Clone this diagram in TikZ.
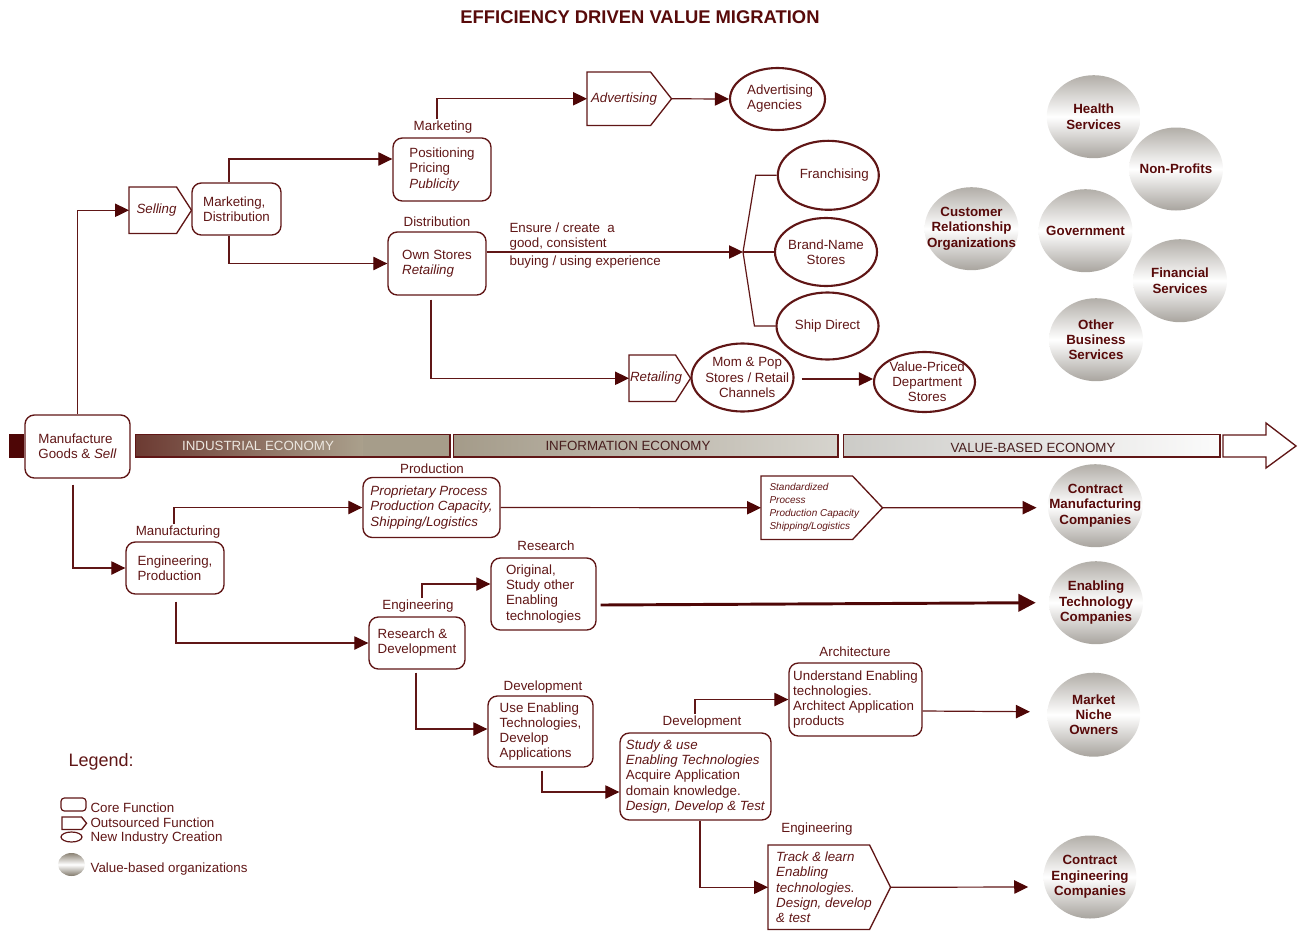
\documentclass[tikz,border=0pt]{standalone}
\usepackage{fontspec}
\setmainfont{Liberation Sans}
\usetikzlibrary{arrows.meta,calc,shapes.geometric}

\definecolor{mar}{RGB}{96,22,22}
\definecolor{tipc}{RGB}{78,6,6}
\definecolor{ttl}{RGB}{88,10,10}
\definecolor{sphtop}{RGB}{178,174,168}
\definecolor{sphbot}{RGB}{168,164,158}
\definecolor{legtop}{RGB}{140,132,118}
\definecolor{legbot}{RGB}{128,120,106}
\definecolor{indA}{RGB}{108,58,50}
\definecolor{indB}{RGB}{170,160,140}
\definecolor{indC}{RGB}{166,157,138}
\definecolor{infA}{RGB}{164,155,137}
\definecolor{infB}{RGB}{214,212,206}
\definecolor{valA}{RGB}{204,203,199}
\definecolor{valB}{RGB}{251,251,251}
\definecolor{bandtext}{RGB}{72,30,30}

\newcommand\pxu{0.75pt}

\tikzset{
  sz/.style 2 args={minimum width=#1*\pxu, minimum height=#2*\pxu},
  corebox/.style={draw=mar, line width=1pt, rounded corners=7pt, align=left,
    inner sep=2pt, text=mar, fill=white},
  osnode/.style={inner sep=0pt, align=left, text=mar},
  osline/.style={draw=mar, line width=1pt},
  % ellipses keep their size; the text sits on top as a centred label
  newind/.style={ellipse, draw=mar, line width=1.6pt, inner sep=0pt},
  nilabel/.style={align=center, text=mar, inner sep=0pt},
  nitext/.style={label={[nilabel]center:{#1}}},
  vbo/.style={ellipse, inner sep=0pt, top color=sphtop, bottom color=sphbot,
    middle color=white},
  vbolabel/.style={align=center, text=ttl, inner sep=0pt,
    font=\fontsize{10}{11.5}\selectfont\bfseries},
  vbotext/.style={label={[vbolabel]center:{#1}}},
  lbl/.style={text=mar, inner sep=1pt},
  conn/.style={draw=mar, line width=0.9pt,
    -{Triangle[length=10.5pt,width=10pt,color=tipc]}},
  heavyconn/.style={draw=tipc, line width=2.2pt,
    -{Triangle[length=13pt,width=13pt,color=tipc]}},
  plain/.style={draw=mar, line width=0.9pt},
  bandlabel/.style={inner sep=0pt, font=\fontsize{10}{12}\selectfont},
  bandedge/.style={draw=mar, line width=0.6pt},
  bandshadow/.style={draw=mar, line width=1.4pt},
}

% outsourced function: flat box with a pointed right end
% [#1 node options] #2 name, #3 left, #4 top, #5 full width, #6 height,
% #7 point length, #8 text
\newcommand\outsrc[8][]{%
  \node[osnode, anchor=north west, minimum width={(#5-#7/2)*\pxu},
        minimum height={#6*\pxu}, #1] (#2) at (#3,#4) {#8};
  \coordinate (#2-tip) at ($(#2.east)+(#7/2,0)$);
  \draw[osline] (#2.north west) -- ($(#2.north east)+(-#7/2,0)$) -- (#2-tip)
     -- ($(#2.south east)+(-#7/2,0)$) -- (#2.south west) -- cycle;}

\begin{document}
\begin{tikzpicture}[x=0.75pt,y=-0.75pt,font=\fontsize{10}{11.3}\selectfont]
\useasboundingbox (0,0) rectangle (1299,932);

% ---------- title ----------
\node[text=ttl, font=\fontsize{13.8}{16}\selectfont\bfseries] (title) at (640,17)
  {EFFICIENCY DRIVEN VALUE MIGRATION};

% ---------- economy band ----------
\fill[tipc] (9,434) rectangle (24,458);
\shade[left color=indA, right color=indB] (135,434) rectangle (363,457);
\fill[indC] (363,434) rectangle (450,457);
\draw[bandedge] (135,434) rectangle (450,457);
\draw[bandshadow] (135,457) -- (450,457) -- (450,434);
\shade[left color=infA, right color=infB] (453,434) rectangle (838,457);
\draw[bandedge] (453,434) rectangle (838,457);
\draw[bandshadow] (453,457) -- (838,457) -- (838,434);
\shade[left color=valA, right color=valB] (843,434) rectangle (1220,457);
\draw[bandedge] (843,434) rectangle (1220,457);
\draw[bandshadow] (843,457) -- (1220,457) -- (1220,434);
\draw[draw=mar, line width=1pt, fill=white]
  (1223,435) -- (1266,435) -- (1266,423) -- (1296,446) -- (1266,468)
  -- (1266,457) -- (1223,457) -- cycle;
\node[bandlabel, text={rgb,255:red,236;green,231;blue,224}] (ind) at (258,446) {INDUSTRIAL ECONOMY};
\node[bandlabel, text=bandtext] (inf) at (628,446) {INFORMATION ECONOMY};
\node[bandlabel, text=bandtext] (vbe) at (1033,448) {VALUE-BASED ECONOMY};

% ---------- upper branch: selling ----------
\node[corebox, sz={105}{63}] (man) at (77.5,446.5) {Manufacture\\Goods \& \textit{Sell}};
\outsrc{sell}{129}{187}{62}{46}{15}{\textit{Selling}}
\node[corebox, sz={89}{52}] (mkd) at (236.5,209) {Marketing,\\Distribution};

\node[lbl] (lmkt) at (443,127) {Marketing};
\node[corebox, sz={98}{63}] (pos) at (442,169.5) {Positioning\\Pricing\\\textit{Publicity}};
\node[lbl] (ldist) at (437,222) {Distribution};
\node[corebox, sz={98}{63}] (own) at (437,263.5) {Own Stores\\\textit{Retailing}};

\outsrc{adv}{587}{72}{84}{53}{21}{\textit{Advertising}}
\node[newind, sz={95}{62},
      label={[nilabel, align=left, xshift=2pt]center:{Advertising\\Agencies}}] (adag) at (777.5,99) {};

\node[lbl, anchor=west, align=left] (ens) at (508,236.5) {Ensure / create~ a\\good, consistent};
\node[lbl, anchor=west] (buy) at (508,262) {buying / using experience};
\coordinate (fan) at (743,252);

\node[newind, sz={101}{69},
      label={[nilabel, xshift=4.5pt]center:Franchising}] (fran) at (828.3,175.3) {};
\node[newind, sz={102}{68}, nitext={Brand-Name\\Stores}] (brand) at (826,252) {};
\node[newind, sz={102}{67}, nitext={Ship Direct}] (ship) at (827.5,326) {};

\outsrc{ret}{629}{355}{61}{46}{15}{\textit{Retailing}}
\node[newind, sz={102}{68},
      label={[nilabel, xshift=3.5pt]center:{Mom \& Pop\\Stores / Retail\\Channels}}] (mom) at (742.5,377.5) {};
\node[newind, sz={101}{60},
      label={[nilabel, xshift=2pt]center:{Value-Priced\\Department\\Stores}}] (val) at (924.5,382) {};

\draw[conn] (man.north) |- (sell.west);
\draw[conn] ($(mkd.north)+(-7.5,0)$) |- ($(pos.west)+(0,-10.5)$);
\draw[conn] ($(mkd.south)+(-7.5,0)$) |- (own.west);
\draw[conn] ($(lmkt.north)+(-6,0)$) |- (adv.west);
\draw[conn] (adv-tip) -- (adag.west);
\draw[conn] ($(own.east)+(0,-11.5)$) -- (fan);
\draw[plain] (fan) -- ($(fran.west)+(-21,0)$) -- (fran.west);
\draw[plain] (fan) -- (brand.west);
\draw[plain] (fan) -- ($(ship.west)+(-21,0)$) -- (ship.west);
\draw[conn] ($(own.south)+(-6,4)$) |- (ret.west);
\draw[conn] ($(mom.east)+(7,1.5)$) -- ($(val.west)+(0,-3)$);

% ---------- value-based organizations ----------
\node[vbo, sz={94}{83}, vbotext={Health\\Services}] (hs) at (1093.7,116.7) {};
\node[vbo, sz={94}{83}, vbotext={Non-Profits}] (np) at (1176,169) {};
\node[vbo, sz={94}{83}, vbotext={Customer\\Relationship\\Organizations}] (cro) at (971.5,228.7) {};
\node[vbo, sz={94}{83}, vbotext={Government}] (gov) at (1085.5,230.7) {};
\node[vbo, sz={94}{83}, vbotext={Financial\\Services}] (fs) at (1180,280.7) {};
\node[vbo, sz={94}{83}, vbotext={Other\\Business\\Services}] (obs) at (1096,339.7) {};
\node[vbo, sz={95}{83}, vbotext={Contract\\Manufacturing\\Companies}] (cm) at (1095.3,505.7) {};
\node[vbo, sz={94}{83}, vbotext={Enabling\\Technology\\Companies}] (et) at (1096,602.7) {};
\node[vbo, sz={93}{84}, vbotext={Market\\Niche\\Owners}] (mn) at (1093.7,714.7) {};
\node[vbo, sz={93}{83}, vbotext={Contract\\Engineering\\Companies}] (ce) at (1090,877) {};

% ---------- lower branch: manufacturing ----------
\node[lbl] (lmfg) at (178,532) {Manufacturing};
\node[corebox, sz={98}{52}] (engp) at (175,568) {Engineering,\\Production};
\node[lbl] (lprod) at (432,469) {Production};
\node[corebox, sz={137}{60}, font=\fontsize{10}{11.3}\selectfont\itshape] (prop) at (431.5,507.5)
  {Proprietary Process\\Production Capacity,\\Shipping/Logistics};
\outsrc[font=\fontsize{7.5}{9.75}\selectfont\itshape]{std}{761}{476}{121}{63}{30}
  {Standardized\\Process\\Production Capacity\\Shipping/Logistics}

\node[lbl] (leng) at (418,606) {Engineering};
\node[corebox, sz={96}{52}] (rd) at (417,643) {Research \&\\Development};
\node[lbl] (lres) at (546,546) {Research};
\node[corebox, sz={105}{72}] (res) at (543.5,594) {Original,\\Study other\\Enabling\\technologies};
\node[lbl] (ldev) at (543,687) {Development};
\node[corebox, sz={105}{71}] (use) at (540.5,731.5) {Use Enabling\\Technologies,\\Develop\\Applications};
\node[lbl] (ldev2) at (702,722) {Development};
\node[corebox, sz={151}{87}] (study) at (695.5,776.5)
  {\textit{Study \& use}\\\textit{Enabling Technologies}\\Acquire Application\\domain knowledge.\\\textit{Design, Develop \& Test}};
\node[lbl] (larch) at (855,652) {Architecture};
\node[corebox, sz={133}{73}] (arch) at (855.5,699.5)
  {Understand Enabling\\technologies.\\Architect Application\\products};
\node[lbl] (leng2) at (817,829) {Engineering};
\outsrc[font=\fontsize{10}{11.3}\selectfont\itshape]{trk}{768}{845}{122}{84}{21}
  {Track \& learn\\Enabling\\technologies.\\Design, develop\\\& test}

\draw[conn] ($(man.south)+(-4.5,6)$) |- (engp.west);
\draw[conn] ($(lmfg.north)+(-4,0)$) |- (prop.west);
\draw[conn] (prop.east) -- (std.west);
\draw[conn] (std-tip) -- ($(cm.west)+(-11,2)$);
\draw[conn] ($(engp.south)+(1,7)$) |- (rd.west);
\draw[conn] ($(leng.north)+(4,0)$) |- ($(res.west)+(0,-10)$);
\draw[heavyconn] ($(res.east)+(4,11)$) -- ($(et.west)+(-13,0)$);
\draw[conn] ($(rd.south)+(-1,3)$) |- ($(use.west)+(0,-2.5)$);
\draw[conn] ($(use.south)+(1.5,3)$) |- ($(study.west)+(0,15.5)$);
\draw[conn] ($(ldev2.north)+(-7,0)$) |- (arch.west);
\draw[conn] ($(arch.east)+(0,11.5)$) -- ($(mn.west)+(-17,-3)$);
\draw[conn] ($(study.south)+(4.5,0)$) |- (trk.west);
\draw[conn] (trk-tip) -- ($(ce.west)+(-15,10)$);

% ---------- legend ----------
\node[lbl, anchor=west, font=\fontsize{13.5}{15}\selectfont] (leg) at (67,762) {Legend:};
\node[draw=mar, line width=0.9pt, rounded corners=2.5pt, inner sep=0pt, sz={25}{13}] (lgcore) at (73.5,804.5) {};
\outsrc{lgos}{62}{817}{24}{12}{5}{}
\node[ellipse, draw=mar, line width=0.9pt, inner sep=0pt, sz={21}{10}] (lgnew) at (71.5,837) {};
\node[ellipse, inner sep=0pt, sz={27}{23}, top color=legtop, bottom color=legbot, middle color=white] (lgvbo) at (71.5,864.5) {};
\node[lbl, anchor=west] (lgcoret) at (89,808) {Core Function};
\node[lbl, anchor=west] (lgost) at (89,823) {Outsourced Function};
\node[lbl, anchor=west] (lgnewt) at (89,838) {New Industry Creation};
\node[lbl, anchor=west] (lgvbot) at (89,869) {Value-based organizations};
\end{tikzpicture}
\end{document}
